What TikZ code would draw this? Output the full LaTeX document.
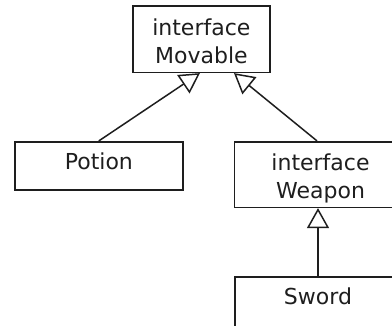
\documentclass[tikz,border=0pt]{standalone}
\usepackage{fontspec}
\setmainfont{DejaVu Sans}
\usetikzlibrary{arrows.meta}

\definecolor{ink}{HTML}{1E1E1E}

\tikzset{
  umlbox/.style={draw=ink, line width=1.6pt, rectangle, inner sep=0pt,
    text=ink, font=\fontsize{22}{28}\selectfont},
  iface/.style={umlbox, align=center, text height=48pt, text depth=0pt},
  cls/.style={umlbox, text height=16pt, text depth=8.5pt},
  extends/.style={draw=ink, line width=1.5pt,
    -{Triangle[open, length=20pt, width=22pt]}},
}

\begin{document}
\begin{tikzpicture}[x=1pt, y=-1pt]
  % page frame, fixed to 392 x 325
  \path[use as bounding box] (0,0) rectangle (392,325);
  \clip (0,0) rectangle (392,325);

  % classes and interfaces
  \node[iface, minimum width=137.3pt, minimum height=66.3pt]
    (movable) at (201.35,39.15) {interface\\Movable};
  \node[cls, minimum width=167.7pt, minimum height=48.3pt]
    (potion) at (98.85,165.85) {Potion};
  \node[iface, minimum width=172.4pt, minimum height=65.6pt]
    (weapon) at (320.5,174.5) {interface\\Weapon};
  \node[cls, text depth=12.5pt, minimum width=166.6pt, minimum height=52pt]
    (sword) at (318,302.7) {Sword};

  % generalisation arrows
  \draw[extends] (potion.north) -- ([xshift=-1.4pt]movable.south);
  \draw[extends] ([xshift=-3.5pt]weapon.north) -- ([xshift=32.6pt]movable.south);
  \draw[extends] (sword.north) -- (sword.north |- weapon.south);
\end{tikzpicture}
\end{document}
